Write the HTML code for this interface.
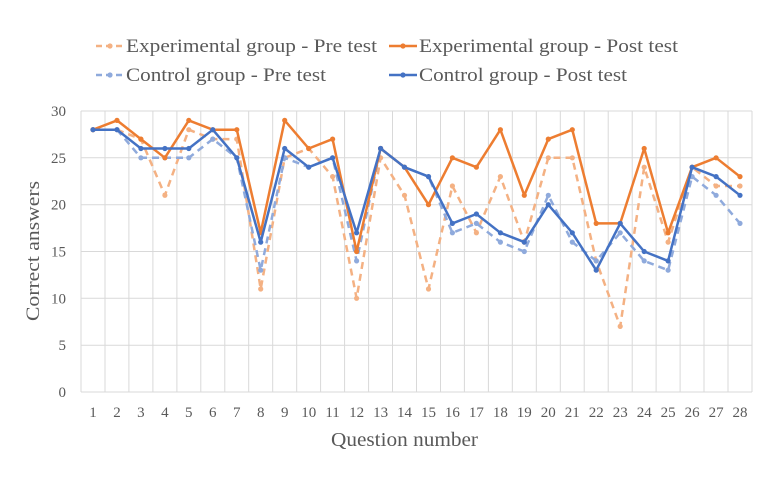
<!DOCTYPE html>
<html><head><style>body{margin:0;background:#fff}</style></head><body>
<svg width="768" height="476" xmlns="http://www.w3.org/2000/svg" font-family="Liberation Serif, serif">
<defs>
<marker id="m1" markerUnits="userSpaceOnUse" markerWidth="8" markerHeight="8" refX="4" refY="4"><circle cx="4" cy="4" r="2.6" fill="#f4b183"/></marker>
<marker id="m2" markerUnits="userSpaceOnUse" markerWidth="8" markerHeight="8" refX="4" refY="4"><circle cx="4" cy="4" r="2.6" fill="#8faadc"/></marker>
<marker id="m3" markerUnits="userSpaceOnUse" markerWidth="8" markerHeight="8" refX="4" refY="4"><circle cx="4" cy="4" r="2.6" fill="#ed7d31"/></marker>
<marker id="m4" markerUnits="userSpaceOnUse" markerWidth="8" markerHeight="8" refX="4" refY="4"><circle cx="4" cy="4" r="2.6" fill="#4472c4"/></marker>
</defs>
<g stroke="#d9d9d9" stroke-width="1">
<path d="M81 111H752M81 157.8H752M81 204.7H752M81 251.5H752M81 298.3H752M81 345.2H752M81 392H752"/>
<path d="M81 111V392M105 111V392M128.9 111V392M152.9 111V392M176.9 111V392M200.8 111V392M224.8 111V392M248.7 111V392M272.7 111V392M296.7 111V392M320.6 111V392M344.6 111V392M368.6 111V392M392.5 111V392M416.5 111V392M440.5 111V392M464.4 111V392M488.4 111V392M512.3 111V392M536.3 111V392M560.3 111V392M584.2 111V392M608.2 111V392M632.2 111V392M656.1 111V392M680.1 111V392M704 111V392M728 111V392M752 111V392"/>
</g>
<g font-size="15" fill="#595959" text-anchor="end">
<text x="66" y="116">30</text><text x="66" y="162.8">25</text><text x="66" y="209.7">20</text><text x="66" y="256.5">15</text><text x="66" y="303.3">10</text><text x="66" y="350.2">5</text><text x="66" y="397">0</text>
</g>
<g font-size="15" fill="#595959" text-anchor="middle">
<text x="93" y="417">1</text><text x="117" y="417">2</text><text x="140.9" y="417">3</text><text x="164.9" y="417">4</text><text x="188.8" y="417">5</text><text x="212.8" y="417">6</text><text x="236.8" y="417">7</text><text x="260.7" y="417">8</text><text x="284.7" y="417">9</text><text x="308.7" y="417">10</text><text x="332.6" y="417">11</text><text x="356.6" y="417">12</text><text x="380.6" y="417">13</text><text x="404.5" y="417">14</text><text x="428.5" y="417">15</text><text x="452.4" y="417">16</text><text x="476.4" y="417">17</text><text x="500.4" y="417">18</text><text x="524.3" y="417">19</text><text x="548.3" y="417">20</text><text x="572.3" y="417">21</text><text x="596.2" y="417">22</text><text x="620.2" y="417">23</text><text x="644.2" y="417">24</text><text x="668.1" y="417">25</text><text x="692.1" y="417">26</text><text x="716.1" y="417">27</text><text x="740" y="417">28</text>
</g>
<g fill="none" stroke-width="2.5" stroke-linejoin="round">
<polyline stroke="#f4b183" stroke-dasharray="7,5" marker-start="url(#m1)" marker-mid="url(#m1)" marker-end="url(#m1)" points="93,129.7 117,129.7 140.9,139.1 164.9,195.3 188.8,129.7 212.8,139.1 236.8,139.1 260.7,289 284.7,157.8 308.7,148.5 332.6,176.6 356.6,298.3 380.6,157.8 404.5,195.3 428.5,289 452.4,186 476.4,232.8 500.4,176.6 524.3,242.1 548.3,157.8 572.3,157.8 596.2,260.9 620.2,326.4 644.2,167.2 668.1,242.1 692.1,167.2 716.1,186 740,186"/>
<polyline stroke="#8faadc" stroke-dasharray="7,5" marker-start="url(#m2)" marker-mid="url(#m2)" marker-end="url(#m2)" points="93,129.7 117,129.7 140.9,157.8 164.9,157.8 188.8,157.8 212.8,139.1 236.8,157.8 260.7,270.2 284.7,157.8 308.7,167.2 332.6,157.8 356.6,260.9 380.6,148.5 404.5,167.2 428.5,176.6 452.4,232.8 476.4,223.4 500.4,242.1 524.3,251.5 548.3,195.3 572.3,242.1 596.2,260.9 620.2,232.8 644.2,260.9 668.1,270.2 692.1,176.6 716.1,195.3 740,223.4"/>
<polyline stroke="#ed7d31" marker-start="url(#m3)" marker-mid="url(#m3)" marker-end="url(#m3)" points="93,129.7 117,120.4 140.9,139.1 164.9,157.8 188.8,120.4 212.8,129.7 236.8,129.7 260.7,232.8 284.7,120.4 308.7,148.5 332.6,139.1 356.6,251.5 380.6,148.5 404.5,167.2 428.5,204.7 452.4,157.8 476.4,167.2 500.4,129.7 524.3,195.3 548.3,139.1 572.3,129.7 596.2,223.4 620.2,223.4 644.2,148.5 668.1,232.8 692.1,167.2 716.1,157.8 740,176.6"/>
<polyline stroke="#4472c4" marker-start="url(#m4)" marker-mid="url(#m4)" marker-end="url(#m4)" points="93,129.7 117,129.7 140.9,148.5 164.9,148.5 188.8,148.5 212.8,129.7 236.8,157.8 260.7,242.1 284.7,148.5 308.7,167.2 332.6,157.8 356.6,232.8 380.6,148.5 404.5,167.2 428.5,176.6 452.4,223.4 476.4,214 500.4,232.8 524.3,242.1 548.3,204.7 572.3,232.8 596.2,270.2 620.2,223.4 644.2,251.5 668.1,260.9 692.1,167.2 716.1,176.6 740,195.3"/>
</g>
<g stroke-width="2.5">
<line x1="96" x2="124" y1="46" y2="46" stroke="#f4b183" stroke-dasharray="6,4"/><circle cx="110" cy="46" r="2.6" fill="#f4b183"/>
<line x1="389" x2="417" y1="46" y2="46" stroke="#ed7d31"/><circle cx="403" cy="46" r="2.6" fill="#ed7d31"/>
<line x1="96" x2="124" y1="75" y2="75" stroke="#8faadc" stroke-dasharray="6,4"/><circle cx="110" cy="75" r="2.6" fill="#8faadc"/>
<line x1="389" x2="417" y1="75" y2="75" stroke="#4472c4"/><circle cx="403" cy="75" r="2.6" fill="#4472c4"/>
</g>
<g font-size="19" fill="#595959" lengthAdjust="spacingAndGlyphs">
<text x="126" y="52" textLength="251" lengthAdjust="spacingAndGlyphs">Experimental group - Pre test</text>
<text x="419" y="52" textLength="259" lengthAdjust="spacingAndGlyphs">Experimental group - Post test</text>
<text x="126" y="81" textLength="200" lengthAdjust="spacingAndGlyphs">Control group - Pre test</text>
<text x="419" y="81" textLength="208" lengthAdjust="spacingAndGlyphs">Control group - Post test</text>
</g>
<text x="331" y="446" font-size="20" fill="#595959" textLength="147" lengthAdjust="spacingAndGlyphs">Question number</text>
<text transform="translate(39,251) rotate(-90)" text-anchor="middle" font-size="19" fill="#595959" textLength="140" lengthAdjust="spacingAndGlyphs">Correct answers</text>
</svg>
</body></html>
